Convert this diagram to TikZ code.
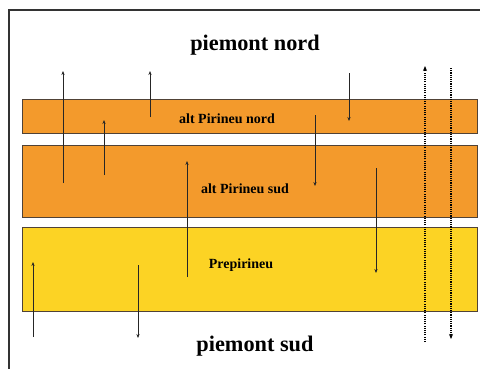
\documentclass[tikz,border=0pt]{standalone}
\usepackage{fontspec}
\setmainfont{Liberation Serif}
\usetikzlibrary{arrows.meta}
\definecolor{bandorange}{HTML}{F39A2C}
\definecolor{bandyellow}{HTML}{FCD324}
\definecolor{bandedge}{HTML}{504236}
\tikzset{
  band/.style={draw=bandedge, line width=1pt, minimum width=455pt, inner sep=0pt, outer sep=0pt},
  bigtxt/.style={font=\fontsize{22.3}{24}\selectfont\bfseries, inner sep=0pt},
  smalltxt/.style={font=\fontsize{14}{16}\selectfont\bfseries, inner sep=0pt},
  flow/.style={draw=black!85, line width=0.8pt, -{Stealth[length=4pt,width=3.2pt]}},
  dotflow/.style={draw=black, line width=1.7pt, dash pattern=on 1.1pt off 1.1pt, -{Stealth[length=5pt,width=4pt]}}
}
\begin{document}
\begin{tikzpicture}[x=1pt,y=-1pt]
\useasboundingbox (0,0) rectangle (480,368);
\fill[white] (0,0) rectangle (480,368);
\draw[black!80, line width=1.5pt] (9,380) -- (9,10) -- (490,10);

\node[band, fill=bandorange, minimum height=34pt] (b1) at (249.5,116) {};
\node[band, fill=bandorange, minimum height=72pt] (b2) at (249.5,181) {};
\node[band, fill=bandyellow, minimum height=84pt] (b3) at (249.5,269) {};

\node[bigtxt] (pn) at (255,45) {piemont nord};
\node[bigtxt] (ps) at (255,346) {piemont sud};
\node[smalltxt] (t1) at (227,119) {alt Pirineu nord};
\node[smalltxt] (t2) at (245,189) {alt Pirineu sud};
\node[smalltxt] (t3) at (241,265) {Prepirineu};

% endpoints
\coordinate (a1s) at (63,183);  \coordinate (a1e) at (63,71);
\coordinate (a2s) at (150,117); \coordinate (a2e) at (150,71);
\coordinate (a3s) at (104,175); \coordinate (a3e) at (104,120);
\coordinate (a4s) at (349,73);  \coordinate (a4e) at (349,121);
\coordinate (a5s) at (315,115); \coordinate (a5e) at (315,186);
\coordinate (a6s) at (187,277); \coordinate (a6e) at (187,161);
\coordinate (a7s) at (376,168); \coordinate (a7e) at (376,273);
\coordinate (a8s) at (33,337);  \coordinate (a8e) at (33,262);
\coordinate (a9s) at (138,265); \coordinate (a9e) at (138,338);
\coordinate (d1s) at (425,342); \coordinate (d1e) at (425,66);
\coordinate (d2s) at (451,68);  \coordinate (d2e) at (451,339);

\draw[flow] (a1s) -- (a1e);
\draw[flow] (a2s) -- (a2e);
\draw[flow] (a3s) -- (a3e);
\draw[flow] (a4s) -- (a4e);
\draw[flow] (a5s) -- (a5e);
\draw[flow] (a6s) -- (a6e);
\draw[flow] (a7s) -- (a7e);
\draw[flow] (a8s) -- (a8e);
\draw[flow] (a9s) -- (a9e);
\draw[dotflow] (d1s) -- (d1e);
\draw[dotflow] (d2s) -- (d2e);
\end{tikzpicture}
\end{document}
